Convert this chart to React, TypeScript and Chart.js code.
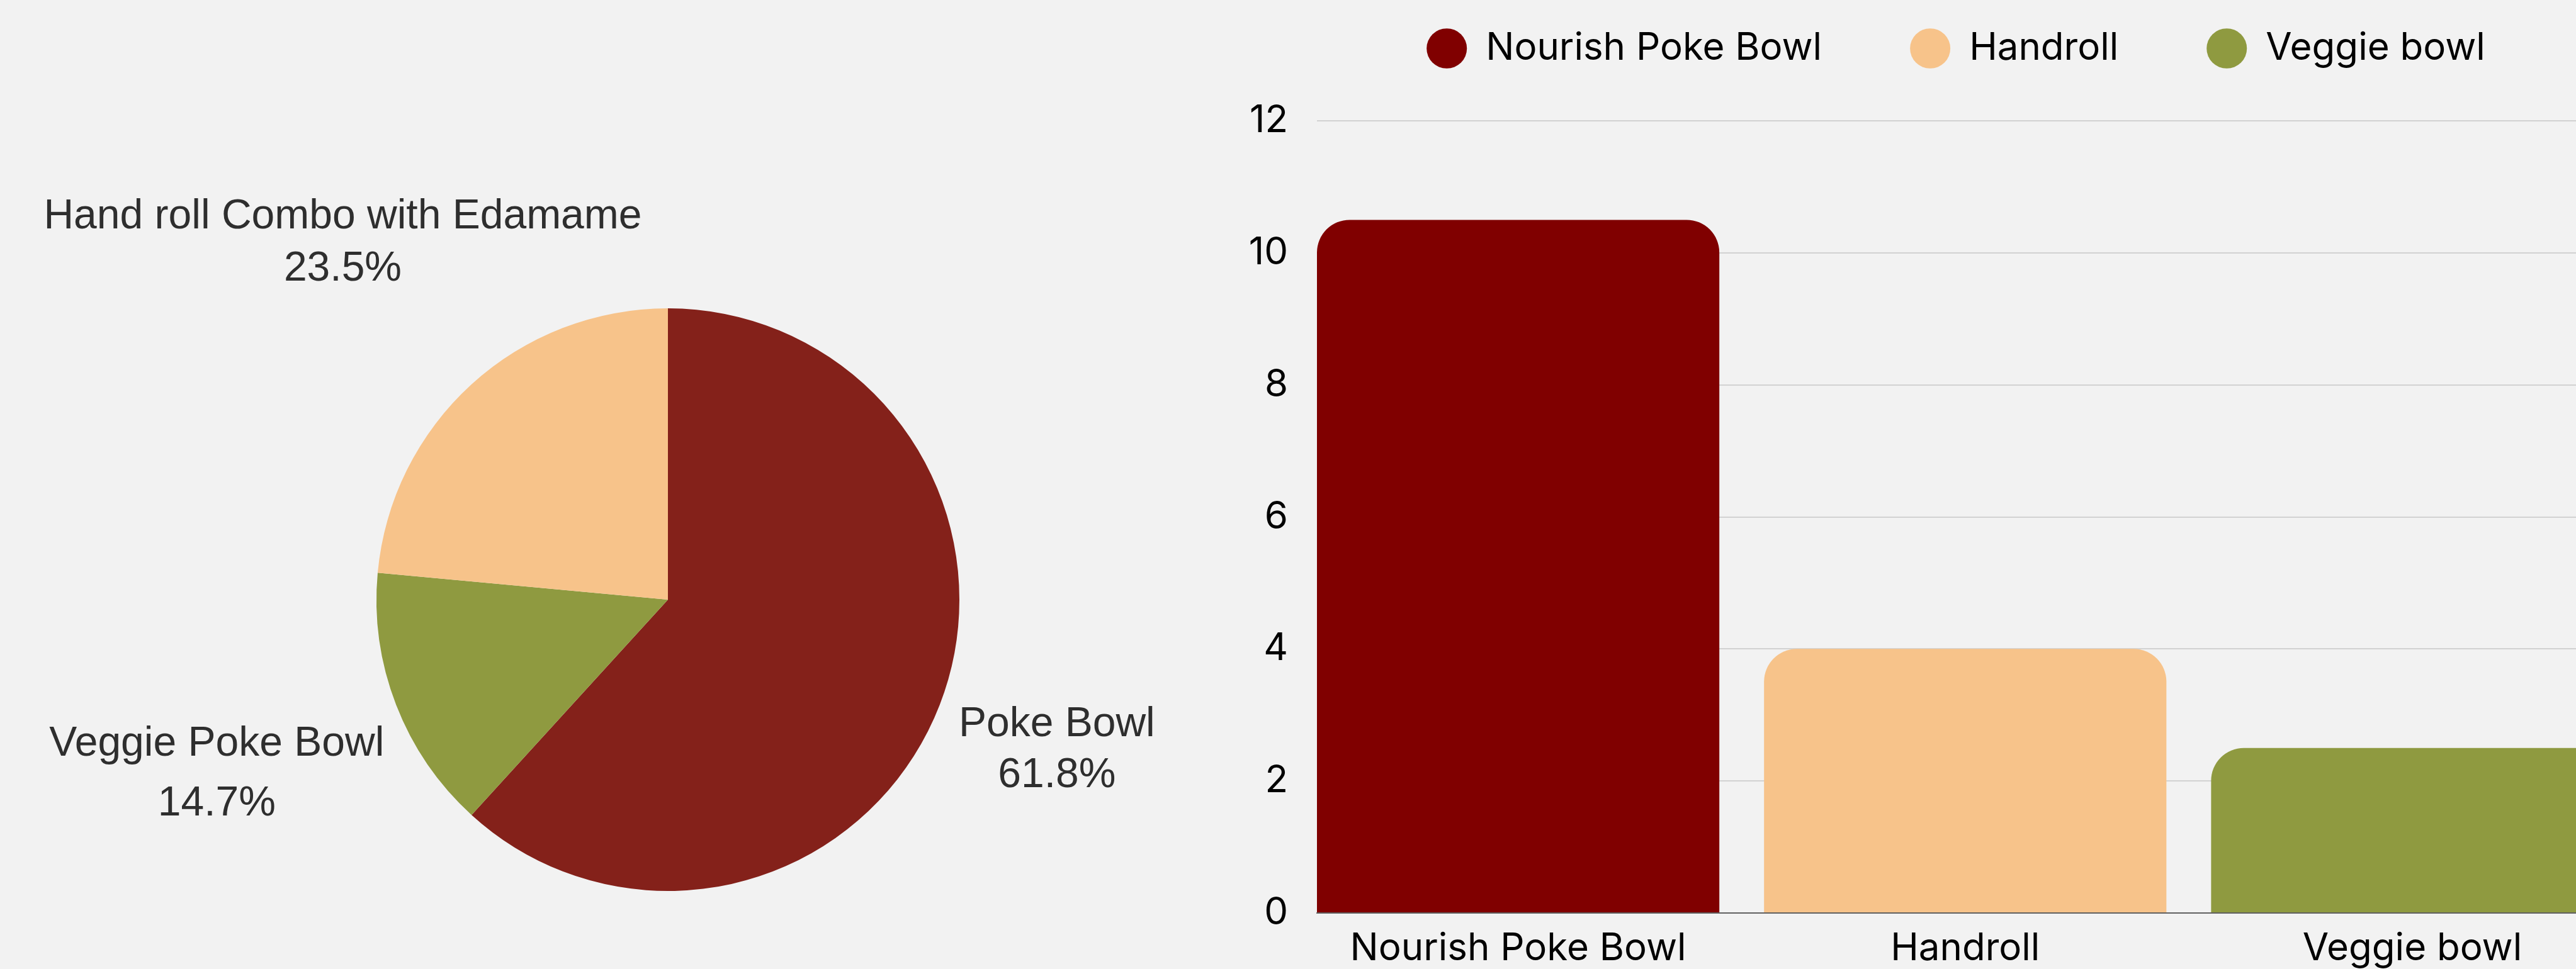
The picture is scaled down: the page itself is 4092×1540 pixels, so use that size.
import React, { useEffect, useRef } from "react";
import { Chart, registerables } from "chart.js";

Chart.register(...registerables);

// ---- Data ----
const barCategories = ["Nourish Poke Bowl", "Handroll", "Veggie bowl"];
const barValues = [10.5, 4, 2.5];
const barColors = ["#800000", "#f7c38a", "#8f9a40"];
const yTickValues = [0, 2, 4, 6, 8, 10, 12];

const pieLabels = ["Poke Bowl", "Veggie Poke Bowl", "Hand roll Combo with Edamame"];
const pieValues = [10.5, 2.5, 4];
const pieColors = ["#84211a", "#8f9a40", "#f7c38a"];

const BAR_FONT = "Inter, 'Liberation Sans', Arial, sans-serif";
const PIE_FONT = "'Liberation Sans', Arial, sans-serif";

const pieLabelPlugin = {
  id: "pieOuterLabels",
  afterDatasetsDraw(chart: any, _args: any, opts: any) {
    const ctx = chart.ctx;
    const meta = chart.getDatasetMeta(0);
    const data = chart.data.datasets[0].data as number[];
    const total = data.reduce((a: number, b: number) => a + b, 0);
    ctx.save();
    ctx.font = `${opts.fontSize}px ${opts.fontFamily}`;
    ctx.fillStyle = opts.color;
    ctx.textAlign = "center";
    ctx.textBaseline = "middle";
    meta.data.forEach((arc: any, i: number) => {
      const { x, y, startAngle, endAngle, outerRadius } = arc.getProps(
        ["x", "y", "startAngle", "endAngle", "outerRadius"],
        true
      );
      const mid = (startAngle + endAngle) / 2;
      const d = outerRadius * opts.distance[i];
      const cx = x + Math.cos(mid) * d;
      const cy = y + Math.sin(mid) * d;
      const gap = opts.lineGap[i];
      ctx.fillText(String(chart.data.labels[i]), cx, cy - gap / 2);
      ctx.fillText(((data[i] / total) * 100).toFixed(1) + "%", cx, cy + gap / 2);
    });
    ctx.restore();
  },
};

export default function App() {
  const pieRef = useRef<HTMLCanvasElement | null>(null);
  const barRef = useRef<HTMLCanvasElement | null>(null);

  useEffect(() => {
    document.body.style.margin = "0";
    document.body.style.overflow = "hidden";

    const pie = new Chart(pieRef.current as HTMLCanvasElement, {
      type: "pie",
      data: {
        labels: pieLabels,
        datasets: [
          {
            data: pieValues,
            backgroundColor: pieColors,
            borderWidth: 0,
          },
        ],
      },
      options: {
        responsive: false,
        animation: false,
        layout: { padding: { left: 598, right: 368, top: 490, bottom: 124 } },
        plugins: {
          legend: { display: false },
          tooltip: { enabled: false },
          pieOuterLabels: {
            fontSize: 66,
            fontFamily: PIE_FONT,
            color: "#2e2e2e",
            distance: [1.431, 1.66, 1.656],
            lineGap: [81, 95, 83],
          },
        } as any,
      },
      plugins: [pieLabelPlugin as any],
    });

    const bar = new Chart(barRef.current as HTMLCanvasElement, {
      type: "bar",
      data: {
        datasets: [
          {
            data: barValues.map((v, i) => ({ x: i, y: v })) as any,
            backgroundColor: barColors,
            borderRadius: 52,
            borderSkipped: "start",
            categoryPercentage: 1,
            barPercentage: 0.9,
          },
        ],
      },
      options: {
        responsive: false,
        animation: false,
        layout: { padding: 0 },
        plugins: {
          tooltip: { enabled: false },
          legend: {
            display: true,
            position: "top",
            labels: {
              usePointStyle: true,
              pointStyle: "circle",
              pointStyleWidth: 64,
              boxHeight: 45,
              padding: 140,
              color: "#000",
              font: { family: BAR_FONT, size: 60 },
              generateLabels: () =>
                barCategories.map((t, i) => ({
                  text: t,
                  fillStyle: barColors[i],
                  strokeStyle: barColors[i],
                  fontColor: "#000",
                  lineWidth: 0,
                  pointStyle: "circle",
                  hidden: false,
                  datasetIndex: 0,
                  index: i,
                })) as any,
            },
          },
          // spacer between legend and plot area
          title: {
            display: true,
            text: " ",
            position: "top",
            weight: 500,
            color: "rgba(0,0,0,0)",
            font: { size: 10 },
            padding: { top: 0, bottom: 63 },
          } as any,
        },
        scales: {
          x: {
            type: "linear",
            min: -0.45,
            max: 2.69,
            offset: false,
            grid: { display: false },
            border: { display: true, color: "rgba(0,0,0,0.55)", width: 2 },
            ticks: {
              stepSize: 1,
              includeBounds: false,
              autoSkip: false,
              maxRotation: 0,
              padding: 13,
              color: "#000",
              font: { family: BAR_FONT, size: 60 },
              callback: (v: any) =>
                Number.isInteger(v) && barCategories[v] !== undefined ? barCategories[v] : "",
            },
          } as any,
          y: {
            min: yTickValues[0],
            max: yTickValues[yTickValues.length - 1],
            grid: { color: "rgba(0,0,0,0.13)", lineWidth: 2, drawTicks: false },
            border: { display: false },
            ticks: {
              stepSize: yTickValues[1] - yTickValues[0],
              padding: 46,
              color: "#000",
              font: { family: BAR_FONT, size: 60 },
            },
            afterFit: (s: any) => {
              s.width = 200;
            },
          } as any,
        },
      },
    });

    return () => {
      pie.destroy();
      bar.destroy();
    };
  }, []);

  return (
    <div
      style={{
        position: "relative",
        width: 4092,
        height: 1540,
        overflow: "hidden",
        background: "#f2f2f2",
      }}
    >
      <canvas
        ref={pieRef}
        width={1892}
        height={1540}
        style={{ position: "absolute", left: 0, top: 0, width: 1892, height: 1540 }}
      />
      <div
        style={{
          position: "absolute",
          left: 1892,
          top: 0,
          width: 4092 - 1892,
          height: 1540,
          overflow: "hidden",
        }}
      >
        <canvas
          ref={barRef}
          width={2430}
          height={1650}
          style={{ position: "absolute", left: 0, top: -93, width: 2430, height: 1650 }}
        />
      </div>
    </div>
  );
}
